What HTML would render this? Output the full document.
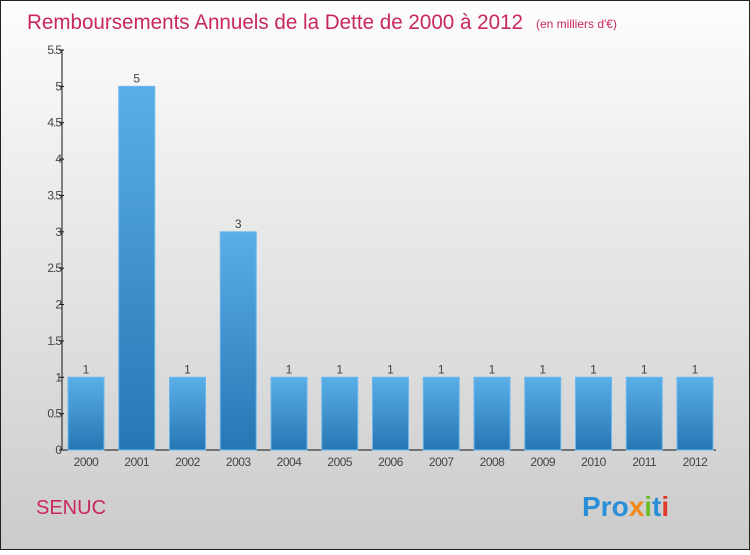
<!DOCTYPE html>
<html><head><meta charset="utf-8"><style>
html,body{margin:0;padding:0}
body{width:750px;height:550px;overflow:hidden;font-family:"Liberation Sans",sans-serif}
</style></head><body>
<svg width="750" height="550" xmlns="http://www.w3.org/2000/svg">
<defs>
<linearGradient id="bg" x1="0" y1="0" x2="0" y2="1"><stop offset="0" stop-color="#fdfdfd"/><stop offset="1" stop-color="#cbcbcb"/></linearGradient>
<linearGradient id="bar" x1="0" y1="0" x2="0" y2="1"><stop offset="0" stop-color="#5aafe8"/><stop offset="1" stop-color="#2676b3"/></linearGradient>
</defs>
<rect x="0.5" y="0.5" width="749" height="549" fill="url(#bg)" stroke="#222"/>
<text x="27" y="29" font-size="21" fill="#c8285a" textLength="496" lengthAdjust="spacingAndGlyphs">Remboursements Annuels de la Dette de 2000 à 2012</text>
<text x="536" y="28" font-size="12" fill="#c8285a">(en milliers d'€)</text>
<text x="36" y="514" font-size="20" fill="#c8285a">SENUC</text>
<g font-size="28" font-weight="bold" font-family="'Liberation Sans',sans-serif">
<text x="582" y="516"><tspan fill="#2a8fd6">Pro</tspan><tspan fill="#f08a1c">x</tspan><tspan fill="#6cbf2a">i</tspan><tspan fill="#2a8fd6">t</tspan><tspan fill="#e03a2a">i</tspan></text>
</g>
<g id="axes"></g>
<g id="bars"></g>
</svg>
<script>
const categories=["2000","2001","2002","2003","2004","2005","2006","2007","2008","2009","2010","2011","2012"];
const values=[1,5,1,3,1,1,1,1,1,1,1,1,1];
const yTicks=[0,0.5,1,1.5,2,2.5,3,3.5,4,4.5,5,5.5];
const yTickLabels=["0","0.5","1","1.5","2","2.5","3","3.5","4","4.5","5","5.5"];
const NS="http://www.w3.org/2000/svg";
const y0=450,yTop=50,yMax=5.5,xAxis=62,x0=86,step=50.75,bw=36;
const y=v=>y0-(v/yMax)*(y0-yTop);
const x=i=>x0+i*step;
function mk(t,a,p){const e=document.createElementNS(NS,t);for(const k in a)e.setAttribute(k,a[k]);p.appendChild(e);return e;}
const ax=document.getElementById('axes'),bg=document.getElementById('bars');
let l=mk('line',{x1:xAxis,y1:yTop,x2:xAxis,y2:y0,stroke:'#111'},ax);


l=mk('line',{x1:xAxis,y1:y0,x2:716,y2:y0,stroke:'#111'},ax);


yTicks.forEach((v,i)=>{
 const tk=mk('line',{x1:xAxis-3,y1:y(v),x2:xAxis+2,y2:y(v),stroke:'#111'},ax);
 
 
 const t=mk('text',{x:xAxis-1,y:y(v)+4,'font-size':12,fill:'#444','text-anchor':'end','letter-spacing':'-1'},ax);
 t.textContent=yTickLabels[i];
 
 
});
categories.forEach((c,i)=>{
 const r=mk('rect',{x:x(i)-bw/2,y:y(values[i]),width:bw,height:y0-y(values[i]),fill:'url(#bar)',stroke:'#6bb8ee','stroke-width':1},bg);
 
 
 const v=mk('text',{x:x(i),y:y(values[i])-4,'font-size':12,fill:'#444','text-anchor':'middle'},bg);
 v.textContent=values[i];
 
 
 const t=mk('text',{x:x(i),y:y0+16,'font-size':12,fill:'#444','text-anchor':'middle','letter-spacing':'-0.5'},bg);
 t.textContent=c;
 
 
});
</script>
</body></html>
